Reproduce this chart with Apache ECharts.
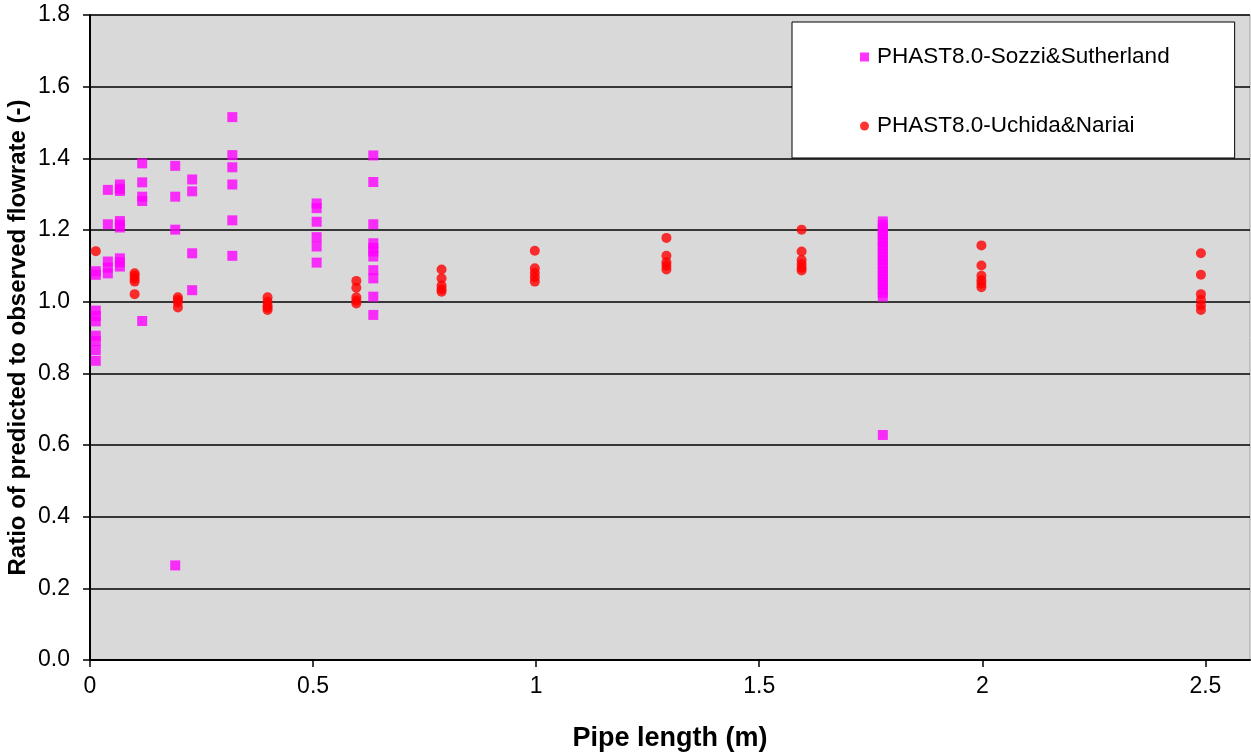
<!DOCTYPE html>
<html>
<head>
<meta charset="utf-8">
<script src="https://cdn.jsdelivr.net/npm/echarts@6/dist/echarts.min.js"></script>
<style>html,body{margin:0;padding:0;background:#fff}#c{width:1251px;height:753px}</style>
</head>
<body>
<div id="c"></div>
<script>
const xTicks = [0, 0.5, 1, 1.5, 2, 2.5];
const seriesNames = ['PHAST8.0-Sozzi&Sutherland', 'PHAST8.0-Uchida&Nariai'];

// Sozzi & Sutherland: [pipe length, ratio]
const sozziX = [0.013, 0.040, 0.067, 0.117, 0.191, 0.229, 0.319, 0.508, 0.635, 1.777];
const sozziY = [
  [1.085, 1.075, 0.975, 0.96, 0.945, 0.905, 0.89, 0.865, 0.835],
  [1.312, 1.216, 1.112, 1.095, 1.079],
  [1.327, 1.315, 1.309, 1.225, 1.215, 1.207, 1.121, 1.11, 1.098],
  [1.386, 1.333, 1.293, 1.281, 0.946],
  [1.379, 1.293, 1.201, 0.264],
  [1.341, 1.308, 1.135, 1.032],
  [1.515, 1.409, 1.375, 1.327, 1.227, 1.128],
  [1.274, 1.261, 1.223, 1.180, 1.154, 1.109],
  [1.408, 1.334, 1.216, 1.163, 1.15, 1.14, 1.126, 1.088, 1.065, 1.014, 0.963],
  [1.224, 1.215, 1.205, 1.196, 1.185, 1.174, 1.166, 1.155, 1.146, 1.135, 1.124, 1.116, 1.105, 1.094, 1.085, 1.075, 1.064, 1.055, 1.046, 1.035, 1.025, 1.014, 0.628]
];

// Uchida & Nariai: [pipe length, ratio]
const uchidaX = [0.013, 0.100, 0.197, 0.398, 0.597, 0.788, 0.997, 1.292, 1.595, 1.998, 2.490];
const uchidaY = [
  [1.141],
  [1.079, 1.072, 1.064, 1.056, 1.021],
  [1.012, 1.005, 0.998, 0.984],
  [1.012, 1.0, 0.99, 0.983, 0.977],
  [1.058, 1.039, 1.012, 1.003, 0.995],
  [1.09, 1.065, 1.045, 1.035, 1.028],
  [1.142, 1.093, 1.08, 1.068, 1.056],
  [1.178, 1.128, 1.11, 1.10, 1.09],
  [1.201, 1.140, 1.116, 1.105, 1.095, 1.087],
  [1.157, 1.101, 1.072, 1.06, 1.05, 1.04],
  [1.135, 1.075, 1.021, 1.005, 0.99, 0.977]
];

function pairs(xs, ys) {
  const out = [];
  xs.forEach((x, i) => ys[i].forEach(y => out.push([x, y])));
  return out;
}

const FONT = '"Liberation Sans", Arial, sans-serif';
const chart = echarts.init(document.getElementById('c'), null, {renderer: 'canvas'});
chart.setOption({
  animation: false,
  backgroundColor: '#ffffff',
  textStyle: {fontFamily: FONT, color: '#000'},
  grid: {left: 90, right: 1, top: 15, bottom: 93, containLabel: false, outerBoundsMode: 'none',
         show: true, backgroundColor: '#d9d9d9', borderWidth: 1, borderColor: '#a0a0a0'},
  legend: {
    orient: 'vertical', left: 792, top: 22,
    backgroundColor: '#ffffff', borderColor: '#000', borderWidth: 1,
    padding: [23, 65, 20, 68],
    itemGap: 45, itemWidth: 9, itemHeight: 9,
    textStyle: {fontFamily: FONT, fontSize: 22.5, lineHeight: 24, color: '#000', padding: [0, 0, 0, 3]},
    data: [
      {name: seriesNames[0], icon: 'rect'},
      {name: seriesNames[1], icon: 'circle'}
    ]
  },
  xAxis: {
    type: 'value', min: 0, max: 2.6, interval: 0.5,
    name: 'Pipe length (m)', nameLocation: 'middle', nameGap: 65, nameMoveOverlap: false,
    nameTextStyle: {fontFamily: FONT, fontSize: 27, fontWeight: 'bold', color: '#000'},
    axisLine: {show: true, onZero: false, lineStyle: {color: '#000', width: 2}},
    axisTick: {show: true, inside: false, length: 7, lineStyle: {color: '#000', width: 1.5}, customValues: xTicks},
    axisLabel: {fontFamily: FONT, fontSize: 23, color: '#000', margin: 15, customValues: xTicks},
    splitLine: {show: false}
  },
  yAxis: {
    type: 'value', min: 0, max: 1.8, interval: 0.2,
    name: 'Ratio of predicted to observed flowrate (-)', nameLocation: 'middle', nameGap: 60, nameMoveOverlap: false,
    nameTextStyle: {fontFamily: FONT, fontSize: 24, fontWeight: 'bold', color: '#000'},
    axisLine: {show: true, lineStyle: {color: '#000', width: 2}},
    axisTick: {show: true, inside: false, length: 7, lineStyle: {color: '#000', width: 1.5}},
    axisLabel: {fontFamily: FONT, fontSize: 23, color: '#000', margin: 20, formatter: v => v.toFixed(1)},
    splitLine: {show: true, lineStyle: {color: '#000', width: 1.5}}
  },
  series: [
    {name: seriesNames[0], type: 'scatter', symbol: 'rect', symbolSize: 10, itemStyle: {color: '#ff00ff'}, data: pairs(sozziX, sozziY), z: 2},
    {name: seriesNames[1], type: 'scatter', symbol: 'circle', symbolSize: 10, itemStyle: {color: '#ff0000'}, data: pairs(uchidaX, uchidaY), z: 3}
  ]
});
</script>
</body>
</html>
